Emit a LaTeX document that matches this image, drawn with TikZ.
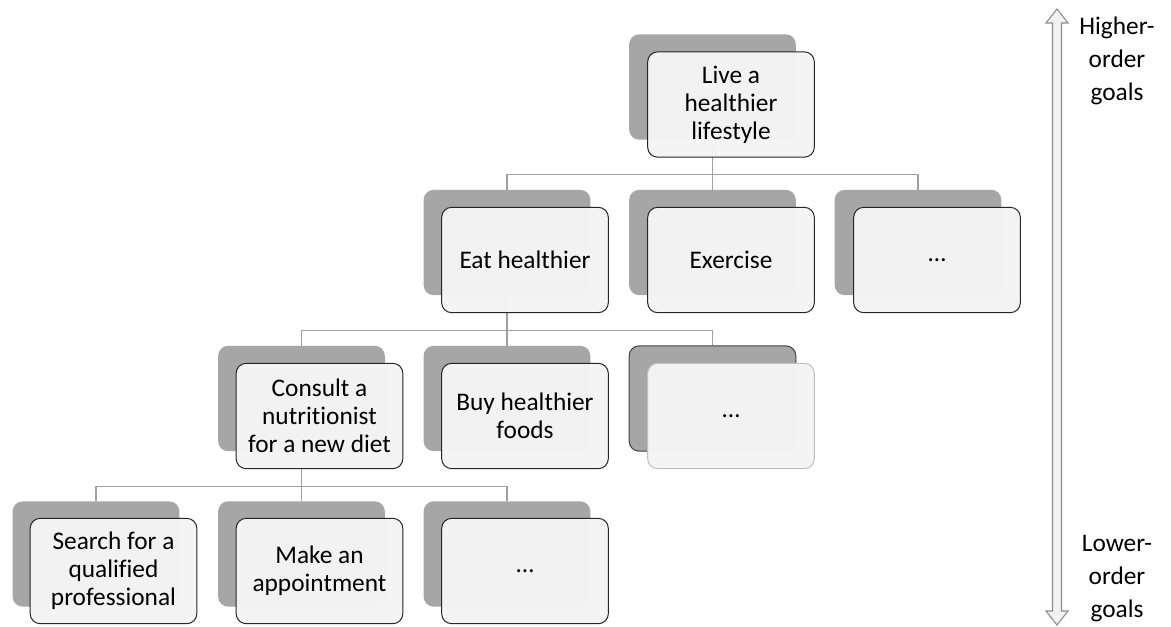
\documentclass[tikz,border=0pt]{standalone}
\usepackage{fontspec}
\setmainfont{Carlito}[Ligatures=NoCommon]
\usepackage{tikz}

\definecolor{shade}{HTML}{A6A6A6}
\definecolor{face}{HTML}{F4F4F4}
\definecolor{linkgray}{HTML}{A0A0A0}

\tikzset{
  back/.style={fill=shade, rounded corners=7.5pt, minimum width=125pt, minimum height=79pt, inner sep=0pt},
  goal/.style={draw=black!85, line width=0.75pt, fill=face, fill opacity=0.98, text opacity=1, rounded corners=7.5pt,
    minimum width=125pt, minimum height=79pt, inner sep=0pt, align=center,
    font=\fontsize{19}{21}\selectfont},
  link/.style={draw=linkgray, line width=0.8pt},
  side/.style={align=center, font=\fontsize{19}{24.75}\selectfont}
}

\begin{document}
\begin{tikzpicture}[x=0.75pt,y=-0.75pt]
  \useasboundingbox (0,0) rectangle (1171,626);

  % shadow boxes
  \node[back] (live-s) at (712.5,87) {};
  \node[back] (eat-s) at (507,242.5) {};
  \node[back] (exer-s) at (712.5,242.5) {};
  \node[back] (more1-s) at (918,242.5) {};
  \node[back] (consult-s) at (301.5,398.5) {};
  \node[back] (buy-s) at (507,398.5) {};
  \node[back, draw=black!75, line width=0.75pt] (more2-s) at (712.5,398.5) {};
  \node[back] (search-s) at (96,554) {};
  \node[back] (appoint-s) at (301.5,554) {};
  \node[back] (more3-s) at (507,554) {};

  % connectors
  \draw[link] (live-s.south) -- ++(0,35) -| (eat-s.north);
  \draw[link] (live-s.south) -- ++(0,35) -| (exer-s.north);
  \draw[link] (live-s.south) -- ++(0,35) -| (more1-s.north);
  \draw[link] (eat-s.south) -- ++(0,35) -| (consult-s.north);
  \draw[link] (eat-s.south) -- ++(0,35) -| (buy-s.north);
  \draw[link] (eat-s.south) -- ++(0,35) -| (more2-s.north);
  \draw[link] (consult-s.south) -- ++(0,35) -| (search-s.north);
  \draw[link] (consult-s.south) -- ++(0,35) -| (appoint-s.north);
  \draw[link] (consult-s.south) -- ++(0,35) -| (more3-s.north);

  % goal boxes
  \node[goal] (live) at (731,104.5) {Live a\\healthier\\lifestyle};
  \node[goal] (eat) at (525,260) {Eat healthier};
  \node[goal] (exer) at (731,260) {Exercise};
  \node[goal] (more1) at (937,260) {…};
  \node[goal] (consult) at (319.5,416) {Consult a\\nutritionist\\for a new diet};
  \node[goal] (buy) at (525,416) {Buy healthier\\foods};
  \node[goal, draw=black!25] (more2) at (731,416) {…};
  \node[goal] (search) at (113.5,571) {Search for a\\qualified\\professional};
  \node[goal] (appoint) at (319.5,571) {Make an\\appointment};
  \node[goal] (more3) at (525,571) {…};

  % goal level arrow
  \draw[draw=gray!90, fill=gray!10, line width=0.8pt]
    (1057,9) -- (1068,23) -- (1061.5,23) -- (1061.5,611) -- (1068,611)
    -- (1057,625) -- (1046,611) -- (1052.5,611) -- (1052.5,23) -- (1046,23) -- cycle;
  \node[side] (high) at (1117,61) {Higher-\\order\\goals};
  \node[side] (low) at (1117,579) {Lower-\\order\\goals};
\end{tikzpicture}
\end{document}
